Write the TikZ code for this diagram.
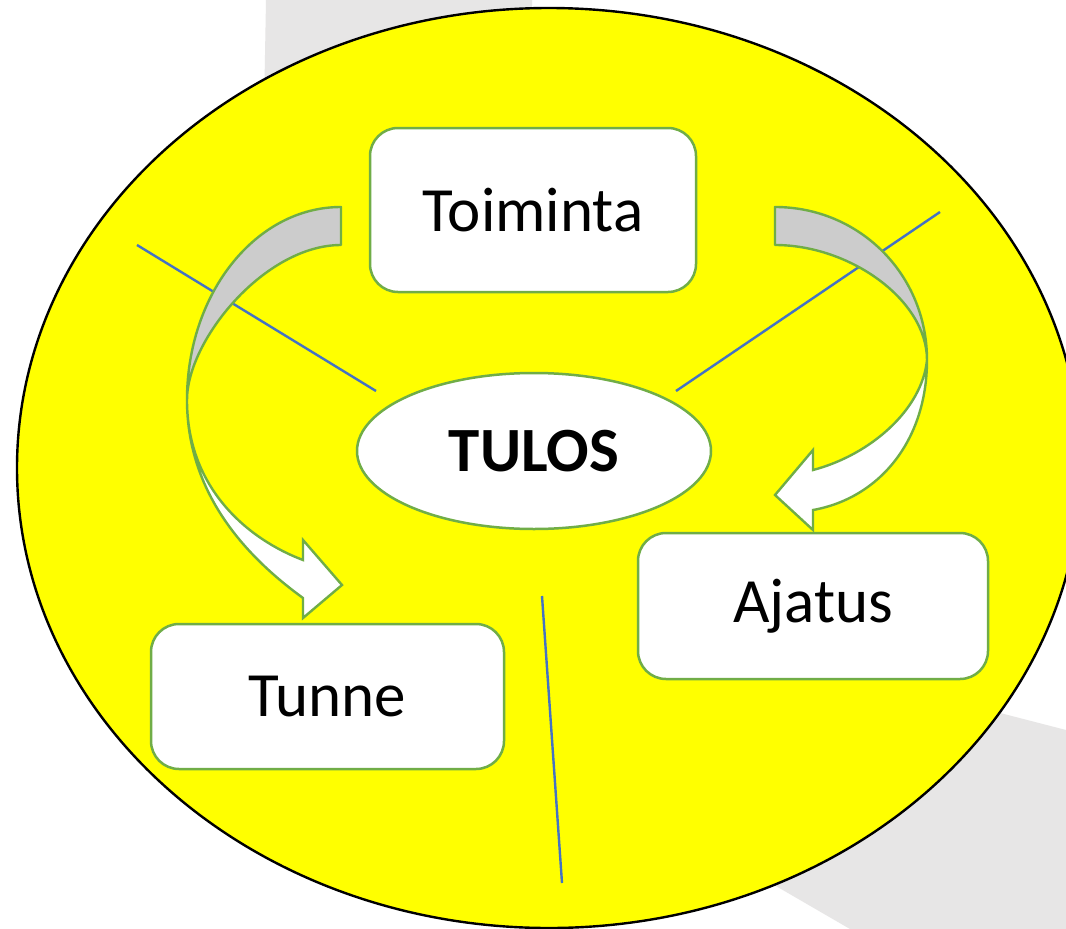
\documentclass[tikz,border=0pt]{standalone}
\usepackage{fontspec}
\setmainfont{Carlito}
\usetikzlibrary{shapes.geometric}
\definecolor{bggrey}{HTML}{E7E6E6}
\definecolor{arrowgrey}{HTML}{CCCCCC}
\definecolor{boxgreen}{HTML}{70AD47}
\definecolor{lineblue}{HTML}{4472C4}
\definecolor{sun}{HTML}{FFFF00}
\tikzset{
  wordbox/.style={draw=boxgreen, line width=2.5pt, fill=white, rounded corners=28pt,
    inner sep=0pt, font=\fontsize{63pt}{75pt}\selectfont},
  centreoval/.style={ellipse, draw=boxgreen, line width=2.5pt, fill=white, inner sep=0pt,
    font=\fontsize{63pt}{75pt}\selectfont\bfseries},
  arrowback/.style={draw=boxgreen, line width=2.4pt, fill=arrowgrey, line join=round},
  arrowfront/.style={draw=boxgreen, line width=2.4pt, fill=white, line join=miter},
  spoke/.style={draw=lineblue, line width=2.4pt},
  backband/.style={fill=bggrey, draw=none}
}
\begin{document}
\begin{tikzpicture}[x=1pt,y=-1pt]
\clip (0,0) rectangle (1066,929);
\fill[white] (0,0) rectangle (1066,929);
% grey background bands
\path[backband] (266,0) -- (532,0) -- (532,40) -- (264,110) -- cycle;
\path[backband] (880,682) -- (1066,730) -- (1066,929) -- (850,929) -- (700,842) -- cycle;
% yellow ellipse
\draw[fill=sun, draw=black, line width=2.4pt] (549,468) ellipse [x radius=532pt, y radius=460pt];
% blue lines
\coordinate (l1a) at (137,245); \coordinate (l1b) at (376,391);
\coordinate (l2a) at (940,212); \coordinate (l2b) at (676,391);
\coordinate (l3a) at (542,596); \coordinate (l3b) at (562,883);
\draw[spoke] (l1a) -- (l1b);
\draw[spoke] (l2a) -- (l2b);
\draw[spoke] (l3a) -- (l3b);
% left curved arrow
\draw[arrowback] (341,207) .. controls (256,207) and (187,293) .. (187,400)
  .. controls (187,340) and (265,245) .. (341,245) -- cycle;
\draw[arrowfront] (187,400) .. controls (187,500) and (255,563) .. (303,598)
  -- (303,618) -- (342,585) -- (303,540) -- (303,560)
  .. controls (250,540) and (187,490) .. (187,400) -- cycle;
% right curved arrow
\draw[arrowback] (775,207) .. controls (859,207) and (927,274) .. (927,360)
  .. controls (927,300) and (850,245) .. (775,245) -- cycle;
\draw[arrowfront] (927,360) .. controls (927,440) and (880,498) .. (813,510)
  -- (813,530) -- (775,495) -- (813,450) -- (813,470)
  .. controls (870,455) and (922,410) .. (927,360) -- cycle;
% nodes
\node[wordbox, minimum width=326pt, minimum height=164pt] (toiminta) at (533,210) {Toiminta};
\node[wordbox, minimum width=353pt, minimum height=145pt] (tunne) at (327.5,696.5) {Tunne};
\node[wordbox, minimum width=350pt, minimum height=146pt] (ajatus) at (813,606) {Ajatus};
\node[centreoval, minimum width=354pt, minimum height=156pt] (tulos) at (534,451) {TULOS};
\end{tikzpicture}
\end{document}
